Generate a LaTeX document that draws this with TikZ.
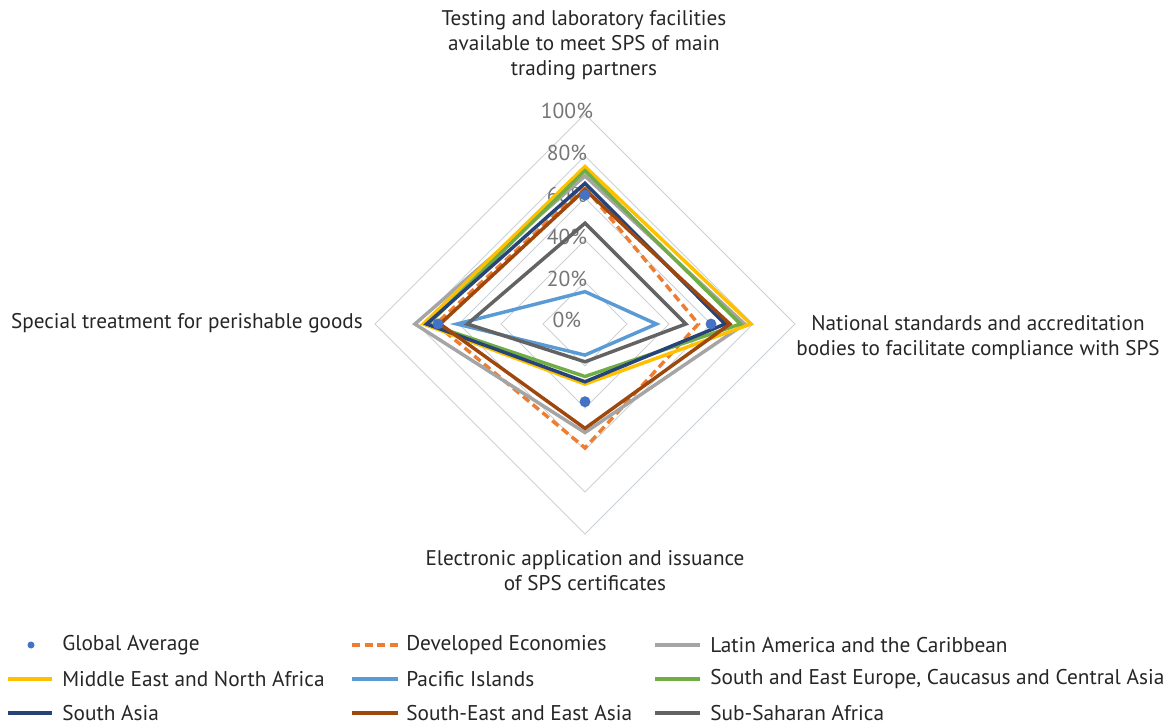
\documentclass[tikz,border=0pt]{standalone}
\usepackage{fontspec}
\setmainfont{PT Sans}
\usepackage{tikz}
\usetikzlibrary{calc, positioning}
\definecolor{gavg}{HTML}{4472C4}
\definecolor{devd}{HTML}{ED7D31}
\definecolor{lac}{HTML}{A5A5A5}
\definecolor{mena}{HTML}{FFC000}
\definecolor{pacif}{HTML}{5B9BD5}
\definecolor{seeca}{HTML}{70AD47}
\definecolor{sasia}{HTML}{264478}
\definecolor{seasia}{HTML}{9E480E}
\definecolor{ssa}{HTML}{636363}
\definecolor{gridgray}{HTML}{CBD1D5}
\definecolor{tickgray}{HTML}{767676}
\tikzstyle{series} = [line width=2.6pt, line join=miter]
\tikzstyle{ring} = [draw=gridgray, line width=0.75pt]
\tikzstyle{axislabel} = [align=center, inner sep=0pt, text=black!85, font=\fontsize{15.9}{18.75}\selectfont]
\tikzstyle{tick} = [inner sep=0pt, text=tickgray, font=\fontsize{16.2}{18}\selectfont]
\tikzstyle{legtext} = [anchor=west, inner sep=0pt, text=black!85, font=\fontsize{16}{18}\selectfont]

\begin{document}
\begin{tikzpicture}[x=0.75pt, y=-0.75pt]

        \useasboundingbox (0,0) rectangle (1168,724);

        % radar, 1 unit = 1%
        \begin{scope}[shift={(585,324)}, x=1.575pt, y=1.575pt]
        \draw[ring] (0,20) -- (20,0) -- (0,-20) -- (-20,0) -- cycle;
        \draw[ring] (0,40) -- (40,0) -- (0,-40) -- (-40,0) -- cycle;
        \draw[ring] (0,60) -- (60,0) -- (0,-60) -- (-60,0) -- cycle;
        \draw[ring] (0,80) -- (80,0) -- (0,-80) -- (-80,0) -- cycle;
        \draw[ring] (0,100) -- (100,0) -- (0,-100) -- (-100,0) -- cycle;

        \node (t0) [tick] at (-8.6,1.8) {0\%};
        \node (t20) [tick] at (-8.6,21.5) {20\%};
        \node (t40) [tick] at (-8.6,41.5) {40\%};
        \node (t60) [tick] at (-8.6,61.5) {60\%};
        \node (t80) [tick] at (-8.6,81.5) {80\%};
        \node (t100) [tick] at (-8.6,101.5) {100\%};

        \draw[series, devd, dash pattern=on 6pt off 3.5pt] (0,65) -- (54,0) -- (0,-59) -- (-71,0) -- cycle;
        \draw[series, lac] (0,70.5) -- (76,0) -- (0,-51.7) -- (-81,0) -- cycle;
        \draw[series, mena] (0,75) -- (79,0) -- (0,-28.6) -- (-77,0) -- cycle;
        \draw[series, pacif] (0,15.4) -- (34,0) -- (0,-14.8) -- (-61,0) -- cycle;
        \draw[series, seeca] (0,73) -- (74,0) -- (0,-25) -- (-74.6,0) -- cycle;
        \draw[series, sasia] (0,67) -- (66.7,0) -- (0,-27.5) -- (-75.4,0) -- cycle;
        \draw[series, seasia] (0,64) -- (69,0) -- (0,-49.7) -- (-69,0) -- cycle;
        \draw[series, ssa] (0,48) -- (48,0) -- (0,-18) -- (-56,0) -- cycle;

        \fill[gavg] (0,61.4) circle (2.6);
        \fill[gavg] (60,0) circle (2.6);
        \fill[gavg] (0,-37) circle (2.6);
        \fill[gavg] (-70,0) circle (2.6);
        \end{scope}

        % category labels
        \node (cattest) [axislabel] at (584,45) {Testing and laboratory facilities\\available to meet SPS of main\\trading partners};
        \node (catnat) [axislabel] at (978,337.5) {National standards and accreditation\\bodies to facilitate compliance with SPS};
        \node (catelec) [axislabel] at (585,570.5) {Electronic application and issuance\\of SPS certificates};
        \node (catperish) [axislabel, anchor=east] at (363,323) {Special treatment for perishable goods};

        % legend
        \fill[gavg] (31,645) circle (3.5);
        \node (lgavg) [legtext] at (62,645) {Global Average};
        \draw[series, devd, dash pattern=on 6pt off 3.5pt] (352,645) -- (398,645);
        \node (ldevd) [legtext] at (406,645) {Developed Economies};
        \draw[series, lac] (655,645) -- (700,645);
        \node (llac) [legtext] at (710,645) {Latin America and the Caribbean};

        \draw[series, mena] (8,679) -- (52,679);
        \node (lmena) [legtext] at (62,679) {Middle East and North Africa};
        \draw[series, pacif] (352,679) -- (398,679);
        \node (lpacif) [legtext] at (406,679) {Pacific Islands};
        \draw[series, seeca] (655,679) -- (700,679);
        \node (lseeca) [legtext] at (710,679) {South and East Europe, Caucasus and Central Asia};

        \draw[series, sasia] (8,713) -- (52,713);
        \node (lsasia) [legtext] at (62,713) {South Asia};
        \draw[series, seasia] (352,713) -- (398,713);
        \node (lseasia) [legtext] at (406,713) {South-East and East Asia};
        \draw[series, ssa] (655,713) -- (700,713);
        \node (lssa) [legtext] at (710,713) {Sub-Saharan Africa};

    \end{tikzpicture}
\end{document}
